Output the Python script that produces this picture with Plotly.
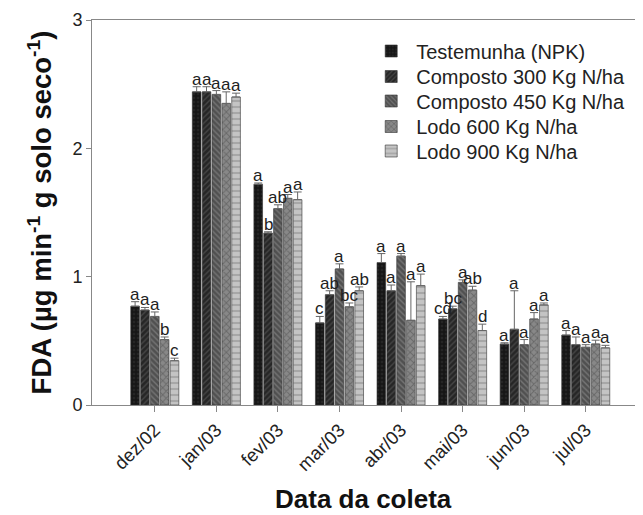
import plotly.graph_objects as go

dates = ["dez/02", "jan/03", "fev/03", "mar/03", "abr/03", "mai/03", "jun/03", "jul/03"]
series_names = ["Testemunha (NPK)", "Composto 300 Kg N/ha", "Composto 450 Kg N/ha",
                "Lodo 600 Kg N/ha", "Lodo 900 Kg N/ha"]

testemunha = [0.77, 2.44, 1.72, 0.64, 1.11, 0.67, 0.475, 0.545]
composto300 = [0.74, 2.44, 1.34, 0.86, 0.89, 0.75, 0.59, 0.47]
composto450 = [0.69, 2.42, 1.53, 1.06, 1.16, 0.955, 0.47, 0.45]
lodo600 = [0.51, 2.35, 1.61, 0.765, 0.66, 0.895, 0.67, 0.475]
lodo900 = [0.345, 2.40, 1.60, 0.89, 0.93, 0.58, 0.78, 0.445]

err_testemunha = [0.035, 0.04, 0.01, 0.05, 0.07, 0.02, 0.01, 0.035]
err_composto300 = [0.02, 0.04, 0.01, 0.03, 0.045, 0.02, 0.30, 0.06]
err_composto450 = [0.035, 0.03, 0.03, 0.04, 0.02, 0.02, 0.04, 0.02]
err_lodo600 = [0.02, 0.09, 0.03, 0.03, 0.30, 0.03, 0.05, 0.03]
err_lodo900 = [0.02, 0.03, 0.06, 0.03, 0.09, 0.05, 0.015, 0.02]

letters_testemunha = ["a", "a", "a", "c", "a", "cd", "a", "a"]
letters_composto300 = ["a", "a", "b", "ab", "a", "bc", "a", "a"]
letters_composto450 = ["a", "a", "ab", "a", "a", "a", "a", "a"]
letters_lodo600 = ["b", "a", "a", "bc", "a", "ab", "a", "a"]
letters_lodo900 = ["c", "a", "a", "ab", "a", "d", "a", "a"]

values = [testemunha, composto300, composto450, lodo600, lodo900]
errors = [err_testemunha, err_composto300, err_composto450, err_lodo600, err_lodo900]
letters = [letters_testemunha, letters_composto300, letters_composto450, letters_lodo600, letters_lodo900]

styles = [
    dict(bg="#161616", fg="#333333", shape=".", size=4),
    dict(bg="#262626", fg="#666666", shape="/", size=4),
    dict(bg="#505050", fg="#9a9a9a", shape="\\", size=4),
    dict(bg="#888888", fg="#4a4a4a", shape="x", size=5),
    dict(bg="#c4c4c4", fg="#8a8a8a", shape="-", size=6),
]

FONT = "Liberation Sans, Arial"
# plot area geometry (screen px incl. 8px page offset): top 20, bottom 405
PLOT_TOP, PLOT_BOTTOM = 20, 405
legend_rows_px = [51, 76.5, 101, 126.5, 151]

xs = list(range(len(dates)))
fig = go.Figure()
legend_names = ["legend", "legend2", "legend3", "legend4", "legend5"]
for k, name in enumerate(series_names):
    st = styles[k]
    fig.add_trace(go.Bar(
        x=xs, y=values[k], name=name, legend=legend_names[k],
        marker=dict(color=st["bg"], line=dict(color="#333333", width=0.6),
                    pattern=dict(shape=st["shape"], fgcolor=st["fg"], bgcolor=st["bg"],
                                 size=st["size"], solidity=0.35, fillmode="overlay")),
        error_y=dict(type="data", array=errors[k], arrayminus=[0] * len(xs), symmetric=False,
                     color="#666666", thickness=1, width=4),
    ))

slot = 0.8 / len(series_names)
annotations = []
for k in range(len(series_names)):
    off = (k - (len(series_names) - 1) / 2) * slot
    for i in xs:
        annotations.append(dict(
            x=i + off, y=values[k][i] + errors[k][i], text=letters[k][i],
            xref="x", yref="y", showarrow=False, yanchor="bottom", yshift=-4,
            font=dict(family=FONT, size=17, color="#222222"),
        ))

plot_h = PLOT_BOTTOM - PLOT_TOP
annotations.append(dict(
    text="<b>Data da coleta</b>", xref="paper", yref="paper", x=0.5,
    y=-(499 - PLOT_BOTTOM) / plot_h, xanchor="center", yanchor="middle", showarrow=False,
    font=dict(family=FONT, size=26, color="#111111"),
))

legend_layouts = {}
for k, ln in enumerate(legend_names):
    legend_layouts[ln] = dict(
        x=0.505, y=(PLOT_BOTTOM - legend_rows_px[k]) / plot_h, xanchor="left", yanchor="middle",
        font=dict(size=20, color="#222222", family=FONT), bgcolor="rgba(0,0,0,0)",
        itemwidth=40, borderwidth=0,
    )

fig.update_layout(
    width=643, height=515,
    margin=dict(l=84, r=16, t=12, b=118, autoexpand=False),
    paper_bgcolor="white", plot_bgcolor="white",
    barmode="group", bargap=0.2, bargroupgap=0.12,
    font=dict(family=FONT, color="#222222"),
    showlegend=True,
    annotations=annotations,
    xaxis=dict(
        automargin=False,
        range=[-1.02, 7.8], tickmode="array", tickvals=xs, ticktext=dates,
        tickangle=-45, tickfont=dict(size=18.5, color="#222222"),
        showgrid=False, zeroline=False, showline=True, linecolor="#888888", linewidth=1,
        mirror=True, ticks="outside", ticklen=6, tickcolor="#888888",
    ),
    yaxis=dict(
        automargin=False,
        range=[0, 3], tickvals=[0, 1, 2, 3], tickfont=dict(size=18, color="#222222"),
        showgrid=False, zeroline=False, showline=True, linecolor="#888888", linewidth=1,
        ticks="outside", ticklen=5, tickcolor="#888888",
        title=dict(text="<b>FDA (µg min<sup>-1</sup> g solo seco<sup>-1</sup>)</b>",
                   font=dict(size=27.5, color="#111111"), standoff=12),
    ),
    **legend_layouts,
)

fig.write_html("out.html")
